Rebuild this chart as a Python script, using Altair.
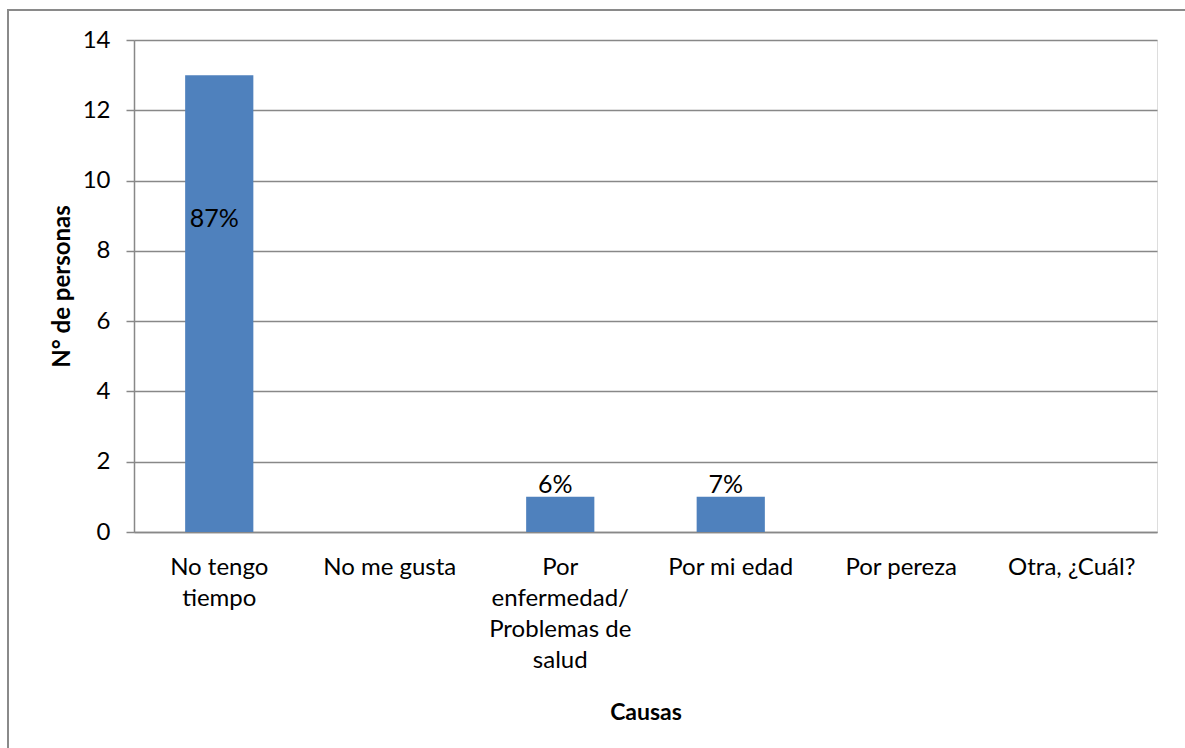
import altair as alt
import pandas as pd

categories = ["No tengo\ntiempo", "No me gusta", "Por\nenfermedad/\nProblemas de\nsalud",
              "Por mi edad", "Por pereza", "Otra, ¿Cuál?"]
counts = [13, 0, 1, 1, 0, 0]
pct_labels = ["87%", "", "6%", "7%", "", ""]
label_at = [8.68, 0, 1.1, 1.1, 0, 0]

df = pd.DataFrame({"cat": categories, "n": counts, "lab": pct_labels, "ly": label_at})
lab_df = df[df["lab"] != ""]

FONT = "Lato"
W, H = 1023, 492

x_enc = alt.X("cat:N", sort=categories,
              scale=alt.Scale(paddingInner=0.6, paddingOuter=0.3),
              axis=alt.Axis(title="Causas", labelAngle=0, labelExpr="split(datum.label, '\\n')",
                            labelFontSize=24, labelFont=FONT, labelColor="black",
                            labelLineHeight=31, labelPadding=23, ticks=False,
                            domainColor="#888888", domainWidth=1.5,
                            titleFontSize=23, titleFont=FONT, titleFontWeight="bold",
                            titleColor="black", titleX=W / 2, titleY=180,
                            titleBaseline="middle", titleAlign="center", labelLimit=300))

bars = alt.Chart(df).mark_bar(color="#4F81BD").encode(
    x=x_enc,
    y=alt.Y("n:Q", scale=alt.Scale(domain=[0, 14]),
            axis=alt.Axis(title="N° de personas", values=list(range(0, 15, 2)),
                          tickSize=8, tickColor="#888888", tickWidth=1.5,
                          labelFontSize=24, labelFont=FONT, labelColor="black", labelPadding=16,
                          domainColor="#888888", domainWidth=1.5,
                          gridColor="#888888", gridWidth=1.5,
                          titleFontSize=24, titleFont=FONT, titleFontWeight="bold",
                          titleColor="black", titleAngle=270, titleX=-72, titleY=H / 2,
                          titleAlign="center", titleBaseline="middle")),
)

texts = alt.Chart(lab_df).mark_text(font=FONT, fontSize=25, color="black",
                                    baseline="alphabetic", dx=-5).encode(
    x=alt.X("cat:N", sort=categories),
    y=alt.Y("ly:Q"),
    text="lab:N",
)

frame = alt.Chart(df).mark_rect(fill=None, stroke="#8a8a8a", strokeWidth=2).encode(
    x=alt.value(-126), x2=alt.value(W + 60), y=alt.value(-30), y2=alt.value(H + 300)
)

chart = alt.layer(frame, bars, texts).properties(
    width=W, height=H,
    autosize=alt.AutoSizeParams(type="none"),
    padding={"left": 134, "top": 40, "right": 28, "bottom": 216},
).configure_view(stroke=None).configure(background="white")

chart.save("out.html", embed_options={"renderer": "svg", "actions": False})
